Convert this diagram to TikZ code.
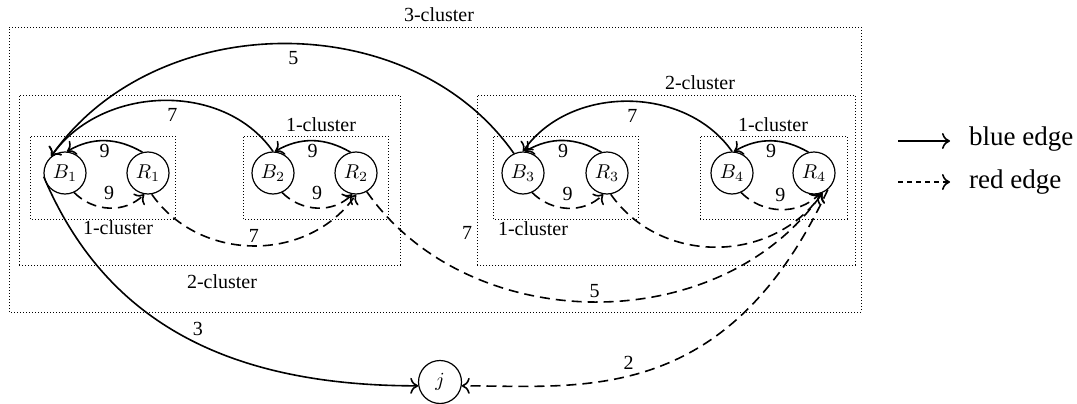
\documentclass[tikz,border=0pt]{standalone}
\usepackage[no-math]{fontspec}
\setmainfont{Liberation Serif}
\newfontfamily\serifont{Liberation Serif}
\usetikzlibrary{arrows.meta}
\begin{document}
\begin{tikzpicture}[x=0.5pt,y=0.5pt,
  font=\serifont\fontsize{10}{12}\selectfont,
  cbox/.style={draw, line width=0.5pt, dash pattern=on 0.5pt off 1pt},
  vert/.style={circle, draw, line width=0.6pt, minimum size=21pt, inner sep=0pt},
  bedge/.style={-{To[length=4pt,width=8pt]}, line width=0.8pt},
  redge/.style={bedge, dash pattern=on 5pt off 3pt},
  lbl/.style={inner sep=1.5pt},
  legtxt/.style={anchor=west, font=\serifont\fontsize{13.5}{16}\selectfont},
]
\useasboundingbox (0,0) rectangle (1077,403);

% cluster boxes
\draw[cbox] (9,91) rectangle (861,376);
\draw[cbox] (19,138) rectangle (400,308);
\draw[cbox] (477,138) rectangle (855,308);
\draw[cbox] (30,184) rectangle (175,267);
\draw[cbox] (243,184) rectangle (388,267);
\draw[cbox] (493,184) rectangle (638,267);
\draw[cbox] (700,184) rectangle (847,267);

% cluster labels
\node (c3)  at (439,388) {3-cluster};
\node (c2r) at (700,320) {2-cluster};
\node (c2l) at (222,121) {2-cluster};
\node (c1a) at (118,175) {1-cluster};
\node (c1b) at (321,278) {1-cluster};
\node (c1c) at (533,174) {1-cluster};
\node (c1d) at (773,278) {1-cluster};
\node (s7)  at (467,170) {7};

% vertices
\node[vert] (B1) at (65,230)  {$B_1$};
\node[vert] (R1) at (148,230) {$R_1$};
\node[vert] (B2) at (273,230) {$B_2$};
\node[vert] (R2) at (356,230) {$R_2$};
\node[vert] (B3) at (523,230) {$B_3$};
\node[vert] (R3) at (607,230) {$R_3$};
\node[vert] (B4) at (732,230) {$B_4$};
\node[vert] (R4) at (814,230) {$R_4$};
\node[vert, minimum size=21.5pt] (j) at (440,21) {$j$};

% pair edges
\draw[bedge] (R1.105) to[out=150,in=30] node[lbl,below]{9} (B1.85);
\draw[redge] (B1.-65) to[out=-45,in=-135] node[lbl,above,inner sep=3.5pt]{9} (R1.-100);
\draw[bedge] (R2.105) to[out=150,in=30] node[lbl,below]{9} (B2.85);
\draw[redge] (B2.-65) to[out=-45,in=-135] node[lbl,above,inner sep=3.5pt]{9} (R2.-100);
\draw[bedge] (R3.105) to[out=150,in=30] node[lbl,below]{9} (B3.85);
\draw[redge] (B3.-65) to[out=-45,in=-135] node[lbl,above,inner sep=3.5pt]{9} (R3.-100);
\draw[bedge] (R4.105) to[out=150,in=30] node[lbl,below]{9} (B4.85);
\draw[redge] (B4.-65) to[out=-45,in=-135] node[lbl,above,inner sep=3.5pt]{9} (R4.-75);

% long edges
\draw[bedge] (B2.90) to[out=125,in=55] node[lbl,below,pos=0.46,inner sep=3.5pt]{7} (B1.130);
\draw[bedge] (B3.115) to[out=125,in=55] node[lbl,below,pos=0.48,inner sep=3.5pt]{5} (B1.130);
\draw[bedge] (B4.90) to[out=125,in=55] node[lbl,below,pos=0.48,inner sep=3.5pt]{7} (B3.90);
\draw[redge] (R1.-80) to[out=-55,in=-125,looseness=1.05] node[lbl,above]{7} (R2.-90);
\draw[redge] (R3.-80) to[out=-55,in=-125,looseness=1.05] (R4.-67);
\draw[redge] (R2.-60) to[out=-55,in=-125] node[lbl,above]{5} (R4.-67);
\draw[bedge] (B1.190) .. controls +(-67:150) and +(-200,0) .. (j.190) node[lbl,pos=0.53,above right]{3};
\draw[redge] (R4.-50) .. controls +(-115:240) and +(120,0) .. (j.-10) node[lbl,pos=0.56,above,inner sep=3pt]{2};

% legend
\coordinate (lb1) at (898,262);
\coordinate (lb2) at (950,262);
\coordinate (lr1) at (898,221);
\coordinate (lr2) at (950,221);
\draw[bedge] (lb1) -- (lb2);
\draw[bedge, dash pattern=on 2.5pt off 2pt] (lr1) -- (lr2);
\node[legtxt] (lbt) at (962,264) {blue edge};
\node[legtxt] (lrt) at (962,221) {red edge};
\end{tikzpicture}
\end{document}
